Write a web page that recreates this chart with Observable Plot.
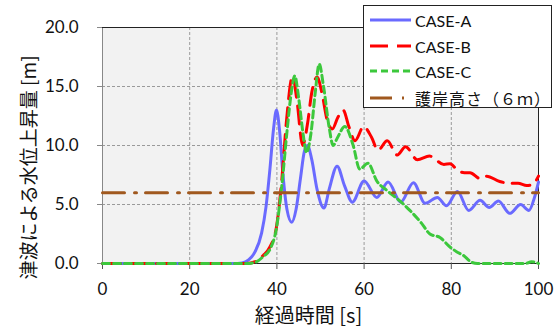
<!DOCTYPE html>
<html><head><meta charset="utf-8">
<script src="https://cdn.jsdelivr.net/npm/d3@7"></script>
<script src="https://cdn.jsdelivr.net/npm/@observablehq/plot@0.6"></script>
<style>
body{margin:0;background:#fff;}
#wrap{position:relative;width:558px;height:332px;}
#legend{position:absolute;left:363px;top:5px;width:189px;height:103px;background:#fff;border:1px solid #222;box-sizing:border-box;font-family:Lato,"Noto Sans CJK JP",sans-serif;font-size:16px;color:#111;}
.row{position:absolute;left:0;height:22px;display:flex;align-items:center;white-space:nowrap;}
.row svg{margin-left:6px;margin-right:4px;}
.jp{font-family:"Noto Sans CJK JP",sans-serif;font-size:16px;letter-spacing:1px;}
</style></head>
<body>
<div id="wrap"><div id="chart"></div><div id="legend"></div></div>
<script>
// ---- data ----
const xDomain = [0, 100];
const yDomain = [0, 20];
const xTicks = [0, 20, 40, 60, 80, 100];
const yTicks = [0, 5, 10, 15, 20];
const xGrid = [20, 40, 60, 80];
const yGrid = [5, 10, 15];
const xLabel = "経過時間 [s]";
const yLabel = "津波による水位上昇量 [m]";
const seriesNames = ["CASE-A", "CASE-B", "CASE-C", "護岸高さ（６ｍ）"];

const caseA = [[0,0],[30,0],[32,0.05],[33.5,0.3],[35,1.0],[36.5,2.6],[37.5,4.8],[38.4,8.0],[39.2,11.3],[39.9,13.0],[40.6,11.3],[41.4,7.5],[42.3,4.6],[43.4,3.5],[44.4,4.6],[45.4,7.2],[46.3,9.5],[47.0,10.0],[48.0,8.8],[49.2,6.3],[50.8,4.7],[52.0,6.3],[53.8,8.25],[55.5,6.6],[57.3,5.2],[60.0,7.0],[62.9,5.6],[65.5,6.9],[68.4,5.2],[71.3,6.85],[74.0,5.1],[76.8,5.6],[78.9,4.9],[81.4,6.1],[84.0,4.5],[86.6,5.35],[88.7,4.75],[90.8,5.3],[93.4,4.25],[95.9,5.0],[97.8,4.5],[99.0,5.5],[100,6.9]];

const caseB = [[0,0],[33,0],[35,0.15],[36.9,0.7],[38.4,1.4],[39.9,3.1],[41.1,7.0],[42.2,12.1],[43.6,15.9],[44.6,13.8],[45.9,10.0],[47.0,11.8],[48.0,14.5],[49.2,15.8],[50.3,14.5],[51.5,12.2],[52.7,11.4],[54.0,12.4],[55.2,13.0],[56.5,11.6],[57.9,10.4],[59.9,11.6],[61.7,10.7],[63.2,9.6],[65.3,10.4],[67.6,9.2],[69.5,9.9],[72.2,8.8],[75.0,9.1],[78.3,8.4],[79.7,8.45],[81.6,7.85],[83.0,7.7],[84.3,7.7],[86.6,7.2],[88.1,7.4],[91.1,6.95],[93.4,6.8],[95.3,6.8],[97.3,6.6],[98.8,6.75],[100,7.4]];

const caseC = [[0,0],[33,0],[35,0.1],[36.9,0.6],[38.4,1.2],[39.9,3.0],[41.1,6.5],[42.4,11.5],[43.3,14.5],[44.1,15.9],[45.0,14.0],[46.0,11.0],[46.8,9.4],[47.8,11.0],[48.8,14.5],[49.7,16.9],[50.7,15.0],[52.0,11.5],[52.9,10.0],[53.8,10.6],[55.6,11.6],[57.5,10.0],[59.0,8.0],[60.9,8.5],[62.9,7.0],[65.2,6.2],[68.2,5.3],[70.5,4.5],[73.2,3.4],[75.1,2.5],[77.4,2.2],[79.7,1.4],[81.2,1.0],[82.7,0.7],[84.7,0.1],[86,0],[97,0],[98.4,0.15],[99.3,0.1],[100,0]];

const seawall = 6;
const seawallLine = [[0, seawall], [100, seawall]];

// ---- styles ----
const styles = [
  {stroke:"#6a6aff", dash:null, width:3},
  {stroke:"#ff0000", dash:"18,9", width:3},
  {stroke:"#3cc83c", dash:"7,4", width:3},
  {stroke:"#a0581e", dash:"22,10,2,9", width:3}
];
const datasets = [caseA, caseB, caseC, seawallLine];

const lineMarks = datasets.map((d, i) => Plot.line(d, {
  x: p => p[0], y: p => p[1],
  stroke: styles[i].stroke, strokeWidth: styles[i].width,
  strokeDasharray: styles[i].dash, curve: i < 3 ? "monotone-x" : "linear"
}));

const jpFont = "'Noto Sans CJK JP', sans-serif";
const chart = Plot.plot({
  width: 558, height: 332,
  marginLeft: 102, marginRight: 20, marginTop: 27, marginBottom: 69,
  x: {domain: xDomain}, y: {domain: yDomain},
  style: {fontFamily: "Lato, 'Noto Sans CJK JP', sans-serif", fontSize: "17px", color: "#111", background: "transparent"},
  marks: [
    Plot.frame({fill: "#f2f2f2", stroke: "none"}),
    Plot.gridX(xGrid, {stroke: "#9a9a9a", strokeOpacity: 1, strokeDasharray: "3,2"}),
    Plot.gridY(yGrid, {stroke: "#9a9a9a", strokeOpacity: 1, strokeDasharray: "3,2"}),
    Plot.ruleX([xDomain[0]], {stroke: "#888"}),
    Plot.ruleY(yDomain, {stroke: "#222"}),
    Plot.ruleX([xDomain[1]], {stroke: "#222"}),
    // tick marks
    Plot.axisX(xTicks, {tickSize: 6, stroke: "#555", tickFormat: () => "", label: null}),
    Plot.axisY(yTicks, {tickSize: 5, stroke: "#888", tickFormat: () => "", label: null}),
    // tick labels
    Plot.axisX(xTicks, {tickSize: 0, tickPadding: 19, fill: "#111", fontSize: 17, tickFormat: d => String(d), label: null}),
    Plot.axisY(yTicks, {tickSize: 0, tickPadding: 24, fill: "#111", fontSize: 17, tickFormat: d => d.toFixed(1), label: null}),
    ...lineMarks,
    Plot.text([xLabel], {frameAnchor: "bottom", lineAnchor: "middle", dy: 53, dx: -12, fontSize: 20, fontFamily: jpFont, fill: "#111"}),
    Plot.text([yLabel], {frameAnchor: "left", rotate: -90, textAnchor: "middle", lineAnchor: "middle", dx: -73, dy: 22, fontSize: 19, fontFamily: jpFont, fill: "#111"})
  ]
});
document.getElementById("chart").appendChild(chart);

// legend
const legend = document.getElementById("legend");
const rowTops = [3, 29, 54, 81];
seriesNames.forEach((name, i) => {
  const row = document.createElement("div");
  row.className = "row";
  row.style.top = rowTops[i] + "px";
  const s = styles[i];
  row.innerHTML = `<svg width="41" height="8"><line x1="0" y1="4" x2="41" y2="4" stroke="${s.stroke}" stroke-width="${s.width}" ${s.dash ? `stroke-dasharray="${s.dash}"` : ""}/></svg><span class="${i === 3 ? "jp" : ""}">${name}</span>`;
  legend.appendChild(row);
});
</script>
</body></html>
